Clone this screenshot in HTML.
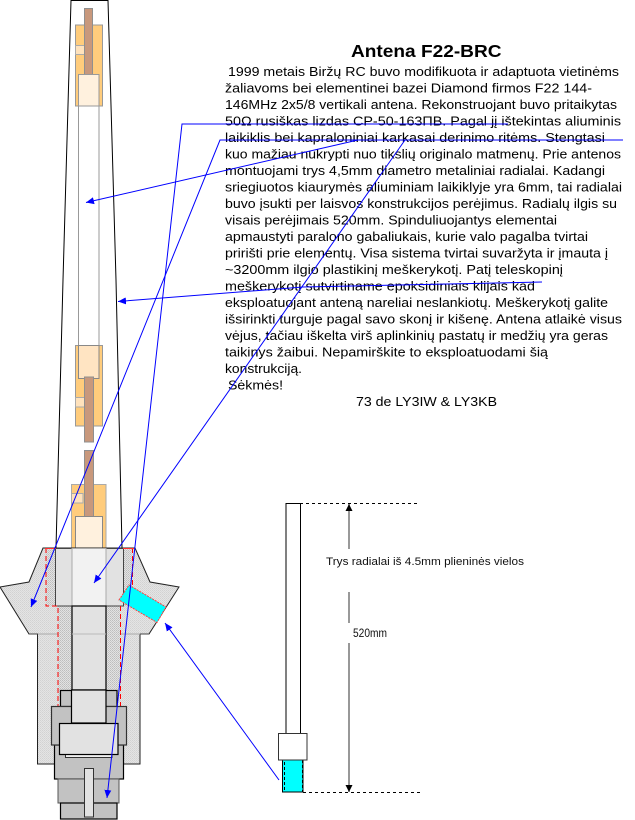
<!DOCTYPE html>
<html>
<head>
<meta charset="utf-8">
<style>
html,body{margin:0;padding:0;background:#fff;}
svg{display:block;}
.t{font-family:"Liberation Sans",sans-serif;font-size:13px;fill:#000;}
</style>
</head>
<body>
<svg width="635" height="820" viewBox="0 0 635 820" xmlns="http://www.w3.org/2000/svg">
<defs>
<pattern id="light" width="2" height="2" patternUnits="userSpaceOnUse">
<rect width="2" height="2" fill="#e4e4e4"/>
<rect width="1" height="1" fill="#d2d2d2"/>
<rect x="1" y="1" width="1" height="1" fill="#d8d8d8"/>
</pattern>
<pattern id="dense" width="2" height="2" patternUnits="userSpaceOnUse">
<rect width="2" height="2" fill="#e2e2e2"/>
<rect width="1" height="1" fill="#bdbdbd"/>
<rect x="1" y="1" width="1" height="1" fill="#c8c8c8"/>
</pattern>
<marker id="ab" markerUnits="userSpaceOnUse" markerWidth="10" markerHeight="10" refX="8" refY="4" orient="auto">
<polygon points="0,0.5 8,4 0,7.5" fill="#0000ff"/>
</marker>
<marker id="bk" markerUnits="userSpaceOnUse" markerWidth="10" markerHeight="10" refX="7" refY="3.5" orient="auto">
<polygon points="0,0 7,3.5 0,7" fill="#000"/>
</marker>
</defs>

<!-- Outer radome -->
<polygon points="71,0.5 108,0.5 116,280 122,548 56,548 63,280" fill="#fff" stroke="#000" stroke-width="1"/>

<!-- White tube -->
<rect x="78.500" y="74" width="20.500" height="272" fill="#fff" stroke="#999" stroke-width="1"/>

<!-- Top section -->
<rect x="75.500" y="25" width="27" height="81" fill="#ffcc7c" stroke="#999"/>
<rect x="75.500" y="45.500" width="9" height="9" fill="#ffe2bc" stroke="#aaa"/>
<rect x="84.500" y="8.500" width="8" height="67" fill="#c8987c" stroke="#8f8f8f"/>
<rect x="78.500" y="74.500" width="20.500" height="31.500" fill="#fff1de" stroke="#999"/>

<!-- Middle section -->
<rect x="75.500" y="345.500" width="27" height="80.500" fill="#ffcc7c" stroke="#999"/>
<rect x="78.500" y="345.500" width="20.500" height="33" fill="#ffe4c2" stroke="#888"/>
<rect x="75.500" y="397.500" width="9" height="9.500" fill="#ffe2bc" stroke="#aaa"/>
<rect x="84.500" y="377" width="9" height="65" fill="#c8987c" stroke="#8f8f8f"/>

<!-- Low section -->
<rect x="71.500" y="484.500" width="34.500" height="64" fill="#ffcc7c" stroke="#aaa"/>
<rect x="71.500" y="493.500" width="11.500" height="9.500" fill="#ffe2bc" stroke="#aaa"/>
<rect x="84.500" y="450.500" width="9" height="66" fill="#c8987c" stroke="#8f8f8f"/>
<rect x="75.500" y="516.500" width="27" height="32" fill="#fff1de" stroke="#888"/>

<!-- Base star -->
<polygon points="43,548 135,548 150,582 179,587 149,634 29,634 0,587 29,582" fill="url(#light)" stroke="#222" stroke-width="1"/>
<!-- Body -->
<rect x="37.500" y="634" width="102.500" height="130" fill="url(#light)" stroke="#222" stroke-width="1"/>
<line x1="29" y1="634" x2="149" y2="634" stroke="#444"/>
<line x1="38" y1="634" x2="140" y2="634" stroke="#aaa"/>

<!-- Dense hatch -->
<rect x="46" y="548" width="86" height="58" fill="url(#dense)"/>
<rect x="58" y="606" width="62" height="90" fill="url(#dense)"/>

<!-- Core -->
<rect x="55.500" y="548.500" width="68" height="57.500" fill="#e2e2e2" stroke="#444"/>
<rect x="72" y="548.500" width="34" height="57.500" fill="#f2f2f2" stroke="#aaa"/>
<rect x="72" y="606" width="34" height="84" fill="#e2e2e2" stroke="#111" stroke-width="1.300"/>
<line x1="72" y1="634" x2="106" y2="634" stroke="#bbb"/>

<!-- Red dashed -->
<g fill="none" stroke="#ff0000" stroke-width="1" stroke-dasharray="5 3">
<polyline points="46,548 46,606 58,606 58,706"/>
<polyline points="132.500,548 132.500,590"/>
<line x1="120.500" y1="606" x2="120.500" y2="706"/>
</g>
<line x1="45" y1="548.500" x2="56" y2="548.500" stroke="#ff3030" stroke-width="1"/>
<line x1="123" y1="548.500" x2="134" y2="548.500" stroke="#ff3030" stroke-width="1"/>

<!-- Cyan connector -->
<polygon points="129,585 166,607 157,622.500 119,600" fill="#00ffff" stroke="#ff4040" stroke-width="1" stroke-dasharray="2 1"/>

<!-- Lower hardware -->
<rect x="54.500" y="745" width="69" height="34" fill="#c2c2c2" stroke="#000" stroke-width="1.200"/>
<rect x="58" y="779" width="61" height="24" fill="#c2c2c2" stroke="#555"/>
<rect x="60.500" y="803" width="56.500" height="16" fill="#c2c2c2" stroke="#000" stroke-width="1.200"/>
<rect x="60.500" y="690.500" width="56.500" height="16" fill="#c2c2c2" stroke="#000" stroke-width="1.200"/>
<rect x="51.500" y="706.500" width="75" height="38.500" fill="#c2c2c2" stroke="#333" stroke-width="1.200"/>
<rect x="71.500" y="690" width="34.500" height="33" fill="#e2e2e2" stroke="#000" stroke-width="1.200"/>
<rect x="65.500" y="745" width="46.500" height="12.500" fill="#f0f0f0" stroke="#333"/>
<rect x="59.500" y="723.500" width="58.500" height="31" fill="#e2e2e2" stroke="#000" stroke-width="1.200"/>
<rect x="84.500" y="768.500" width="9" height="48.500" fill="#e2e2e2" stroke="#333"/>

<!-- Radial drawing -->
<rect x="286" y="503.500" width="14.500" height="230" fill="#fff" stroke="#000"/>
<rect x="282.500" y="760" width="20.500" height="32" fill="#00ffff" stroke="#000"/>
<line x1="284.500" y1="762" x2="284.500" y2="790" stroke="#000" stroke-dasharray="3 2"/>
<line x1="302.500" y1="760" x2="302.500" y2="792" stroke="#000" stroke-dasharray="3 2"/>
<rect x="278.500" y="733.500" width="28.500" height="26.500" fill="#fff" stroke="#333" stroke-width="1"/>
<line x1="300" y1="503.500" x2="419" y2="503.500" stroke="#000" stroke-dasharray="3 3"/>
<line x1="303" y1="792.500" x2="420" y2="792.500" stroke="#000" stroke-dasharray="3 3"/>
<line x1="349" y1="549" x2="349" y2="504" stroke="#777" stroke-width="1.500" marker-end="url(#bk)"/>
<line x1="349" y1="592" x2="349" y2="623" stroke="#777" stroke-width="1.500"/>
<line x1="349" y1="643" x2="349" y2="792" stroke="#777" stroke-width="1.500" marker-end="url(#bk)"/>

<text x="326" y="565" font-family="Liberation Sans, sans-serif" font-size="11" textLength="198" lengthAdjust="spacingAndGlyphs" fill="#111">Trys radialai iš 4.5mm plieninės vielos</text>
<text x="353" y="637" font-family="Liberation Sans, sans-serif" font-size="11.500" textLength="34" lengthAdjust="spacingAndGlyphs" fill="#111">520mm</text>

<!-- Main text -->
<text x="351" y="57" font-family="Liberation Sans, sans-serif" font-size="17.500" font-weight="bold" textLength="150.500" lengthAdjust="spacingAndGlyphs">Antena F22-BRC</text>
<g class="t">
<text class="t" x="228" y="76" textLength="391" lengthAdjust="spacingAndGlyphs">1999 metais Biržų RC buvo modifikuota ir adaptuota vietinėms</text>
<text class="t" x="225" y="92.500" textLength="367" lengthAdjust="spacingAndGlyphs">žaliavoms bei elementinei bazei Diamond firmos F22 144-</text>
<text class="t" x="225" y="109" textLength="392" lengthAdjust="spacingAndGlyphs">146MHz 2x5/8 vertikali antena. Rekonstruojant buvo pritaikytas</text>
<text class="t" x="225" y="125.500" textLength="396" lengthAdjust="spacingAndGlyphs">50Ω rusiškas lizdas CP-50-163ПВ. Pagal jį ištekintas aliuminis</text>
<text class="t" x="225" y="142" textLength="380" lengthAdjust="spacingAndGlyphs">laikiklis bei kapraloniniai karkasai derinimo ritėms. Stengtasi</text>
<text class="t" x="225" y="158.500" textLength="396" lengthAdjust="spacingAndGlyphs">kuo mažiau nukrypti nuo tikslių originalo matmenų. Prie antenos</text>
<text class="t" x="225" y="175" textLength="380" lengthAdjust="spacingAndGlyphs">montuojami trys 4,5mm diametro metaliniai radialai. Kadangi</text>
<text class="t" x="225" y="191.500" textLength="397" lengthAdjust="spacingAndGlyphs">sriegiuotos kiaurymės aliuminiam laikiklyje yra 6mm, tai radialai</text>
<text class="t" x="225" y="208" textLength="392" lengthAdjust="spacingAndGlyphs">buvo įsukti per laisvos konstrukcijos perėjimus. Radialų ilgis su</text>
<text class="t" x="225" y="224.500" textLength="332" lengthAdjust="spacingAndGlyphs">visais perėjimais 520mm. Spinduliuojantys elementai</text>
<text class="t" x="225" y="241" textLength="363" lengthAdjust="spacingAndGlyphs">apmaustyti paralono gabaliukais, kurie valo pagalba tvirtai</text>
<text class="t" x="225" y="257.500" textLength="383" lengthAdjust="spacingAndGlyphs">pririšti prie elementų. Visa sistema tvirtai suvaržyta ir įmauta į</text>
<text class="t" x="225" y="274" textLength="338" lengthAdjust="spacingAndGlyphs">~3200mm ilgio plastikinį meškerykotį. Patį teleskopinį</text>
<text class="t" x="225" y="290.500" textLength="310" lengthAdjust="spacingAndGlyphs">meškerykotį sutvirtiname epoksidiniais klijais kad</text>
<text class="t" x="225" y="307" textLength="383" lengthAdjust="spacingAndGlyphs">eksploatuojant anteną nareliai neslankiotų. Meškerykotį galite</text>
<text class="t" x="225" y="323.500" textLength="397" lengthAdjust="spacingAndGlyphs">išsirinkti turguje pagal savo skonį ir kišenę. Antena atlaikė visus</text>
<text class="t" x="225" y="340" textLength="383" lengthAdjust="spacingAndGlyphs">vėjus, tačiau iškelta virš aplinkinių pastatų ir medžių yra geras</text>
<text class="t" x="225" y="356.500" textLength="323" lengthAdjust="spacingAndGlyphs">taikinys žaibui. Nepamirškite to eksploatuodami šią</text>
<text class="t" x="225" y="373" textLength="77" lengthAdjust="spacingAndGlyphs">konstrukciją.</text>
<text class="t" x="228" y="389.500" textLength="55" lengthAdjust="spacingAndGlyphs">Sėkmės!</text>
<text class="t" x="356" y="406" textLength="141" lengthAdjust="spacingAndGlyphs">73 de LY3IW &amp; LY3KB</text>
</g>

<!-- Blue leader lines -->
<g fill="none" stroke="#0000ff" stroke-width="1">
<polyline points="508,124 182,124 107,798" marker-end="url(#ab)"/>
<polyline points="623,140 220,140 31,607" marker-end="url(#ab)"/>
<polyline points="405,140 94,583" marker-end="url(#ab)"/>
<polyline points="358,140 86,202.500" marker-end="url(#ab)"/>
<polyline points="542,282 303,287 118,301.500" marker-end="url(#ab)"/>
<polyline points="279,780 165,623" marker-end="url(#ab)"/>
</g>
</svg>
</body>
</html>
